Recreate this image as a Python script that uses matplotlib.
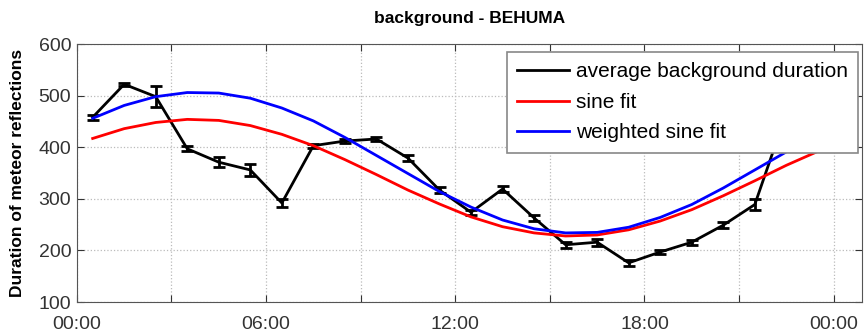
import numpy as np
import matplotlib.pyplot as plt

plt.rcParams['font.family'] = ['Liberation Sans', 'DejaVu Sans']

# hourly bins (centre of each hour)
hours = [0.5, 1.5, 2.5, 3.5, 4.5, 5.5, 6.5, 7.5, 8.5, 9.5, 10.5, 11.5,
         12.5, 13.5, 14.5, 15.5, 16.5, 17.5, 18.5, 19.5, 20.5, 21.5, 22.5, 23.5]
avg_duration = [458, 522, 498, 397, 371, 356, 292, 403, 412, 416, 379, 317,
                274, 319, 263, 211, 216, 176, 197, 216, 249, 289, 466, 460]
avg_error = [5, 3, 20, 5, 10, 12, 8, 4, 3, 3, 5, 5,
             5, 5, 6, 6, 7, 6, 4, 5, 6, 10, 5, 5]
sine_fit = [417, 436, 448, 454, 452, 442, 425, 403, 376, 347, 317, 290,
            265, 246, 234, 228, 230, 240, 257, 279, 306, 335, 365, 392]
weighted_fit = [456, 481, 498, 506, 505, 495, 476, 451, 419, 384, 349, 314,
                284, 259, 242, 234, 235, 245, 264, 289, 321, 356, 391, 426]

tick_hours = [0, 3, 6, 9, 12, 15, 18, 21, 24]
tick_labels = ['00:00', '', '06:00', '', '12:00', '', '18:00', '', '00:00']
y_ticks = [100, 200, 300, 400, 500, 600]

fig = plt.figure(figsize=(8.64, 3.36), dpi=100)
ax = fig.add_axes([0.089, 0.101, 0.9087, 0.768])

ax.plot(hours, avg_duration, color='k', lw=2.0, label='average background duration')
ax.errorbar(hours, avg_duration, yerr=avg_error, fmt='none', ecolor='k',
            elinewidth=2.0, capsize=4.5, capthick=2.0)
ax.plot(hours, sine_fit, color='#ff0000', lw=2.0, label='sine fit')
ax.plot(hours, weighted_fit, color='#0000ff', lw=2.0, label='weighted sine fit')

ax.set_xlim(0, 24.9)
ax.set_ylim(100, 600)
ax.set_xticks(tick_hours)
ax.set_xticklabels(tick_labels)
ax.set_yticks(y_ticks)
ax.grid(True, linestyle=':', color='#bbbbbb', lw=0.9)
ax.tick_params(direction='in', top=True, right=True, labelsize=14,
               colors='#333333', length=5)
ax.tick_params(axis='x', pad=10)
ax.tick_params(axis='y', pad=4)
for s in ax.spines.values():
    s.set_color('#555555')

ax.set_title('background - BEHUMA', fontsize=12.5, fontweight='bold', pad=15)
ax.set_ylabel('Duration of meteor reflections', fontsize=12.5,
              fontweight='bold', labelpad=10)

leg = ax.legend(loc='upper right', bbox_to_anchor=(0.995, 0.969),
                borderaxespad=0, fontsize=15, fancybox=False,
                framealpha=1, edgecolor='#888888', handlelength=2.5,
                handletextpad=0.3, labelspacing=0.55, borderpad=0.5)
leg.get_frame().set_linewidth(1.2)

plt.savefig('out.png', dpi=100)
